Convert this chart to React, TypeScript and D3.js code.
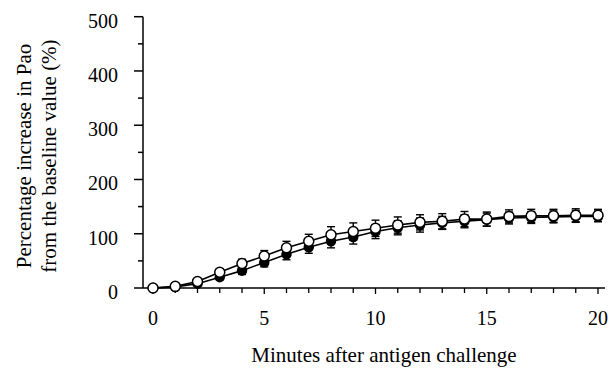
import React from 'react';
import { scaleLinear, line, range } from 'd3';

// minutes after challenge
const minutes = [0, 1, 2, 3, 4, 5, 6, 7, 8, 9, 10, 11, 12, 13, 14, 15, 16, 17, 18, 19, 20];
// filled circles
const filledValues = [0, 2, 8, 20, 32, 47, 62, 75, 86, 94, 104, 111, 116, 120, 123, 126, 129, 130, 131, 132, 132];
const filledErr = [0, 1, 3, 5, 7, 8, 10, 11, 12, 13, 13, 13, 13, 12, 12, 12, 11, 11, 11, 11, 10];
// open circles
const openValues = [0, 3, 12, 29, 45, 59, 74, 86, 98, 104, 110, 116, 121, 123, 127, 127, 132, 133, 133, 134, 134];
const openErr = [0, 2, 4, 6, 8, 10, 12, 13, 15, 16, 15, 15, 14, 14, 14, 13, 12, 12, 12, 12, 11];

const xTicks = [0, 5, 10, 15, 20];
const yTicks = [0, 100, 200, 300, 400, 500];

const yLabel1 = 'Percentage increase in Pao';
const yLabel2 = 'from the baseline value (%)';
const xLabel = 'Minutes after antigen challenge';

export default function App() {
    const width = 609,
        height = 368,
        axisX = 143,
        axisY = 288;

    const x = scaleLinear().domain([0, 20]).range([153, 598]);
    const y = scaleLinear().domain([0, 500]).range([axisY, 16.7]);

    const path = line<number>().x((d, i) => x(minutes[i])).y((d) => y(d));

    const textStyle = { fontFamily: 'Liberation Serif, serif' };

    const series = (vals: number[], errs: number[], filled: boolean) => (
        <g>
            <path d={path(vals) || ''} fill="none" stroke="#000" strokeWidth={1.6} />
            {vals.map((v, i) => (
                <g key={i}>
                    {errs[i] > 0 && (
                        <g stroke="#000" strokeWidth={1.4}>
                            <line x1={x(minutes[i])} x2={x(minutes[i])} y1={y(v - errs[i])} y2={y(v + errs[i])} />
                            <line x1={x(minutes[i]) - 4} x2={x(minutes[i]) + 4} y1={y(v + errs[i])} y2={y(v + errs[i])} />
                            <line x1={x(minutes[i]) - 4} x2={x(minutes[i]) + 4} y1={y(v - errs[i])} y2={y(v - errs[i])} />
                        </g>
                    )}
                    <circle
                        cx={x(minutes[i])}
                        cy={y(v)}
                        r={filled ? 4.5 : 5}
                        fill={filled ? '#000' : '#fff'}
                        stroke="#000"
                        strokeWidth={1.5}
                    />
                </g>
            ))}
        </g>
    );

    return (
        <svg width={width} height={height} style={{ position: 'absolute', left: 0, top: 0, background: '#fff' }}>
            {/* y axis */}
            <line x1={axisX} x2={axisX} y1={y(500)} y2={axisY} stroke="#000" strokeWidth={1.5} />
            {range(0, 501, 50).map((t) => (
                <line key={t} x1={t % 100 === 0 ? axisX - 9 : axisX - 5} x2={axisX} y1={y(t)} y2={y(t)} stroke="#000" strokeWidth={1.5} />
            ))}
            {yTicks.map((t) => (
                <text key={t} x={118} y={y(t) + 11} textAnchor="end" style={textStyle} fontSize={20}>
                    {t}
                </text>
            ))}

            {/* x axis */}
            <line x1={axisX} x2={605} y1={axisY} y2={axisY} stroke="#000" strokeWidth={1.5} />
            {minutes.map((m) => (
                <line key={m} x1={x(m)} x2={x(m)} y1={axisY} y2={axisY + (m % 5 === 0 ? 6 : 5)} stroke="#000" strokeWidth={1.3} />
            ))}
            {xTicks.map((t) => (
                <text key={t} x={x(t)} y={325} textAnchor="middle" style={textStyle} fontSize={20}>
                    {t}
                </text>
            ))}

            {series(filledValues, filledErr, true)}
            {series(openValues, openErr, false)}

            <text x={384} y={362} textAnchor="middle" style={textStyle} fontSize={21}>
                {xLabel}
            </text>
            <text transform="translate(31,156) rotate(-90)" textAnchor="middle" style={textStyle} fontSize={21}>
                {yLabel1}
            </text>
            <text transform="translate(56,156) rotate(-90)" textAnchor="middle" style={textStyle} fontSize={21}>
                {yLabel2}
            </text>
        </svg>
    );
}
